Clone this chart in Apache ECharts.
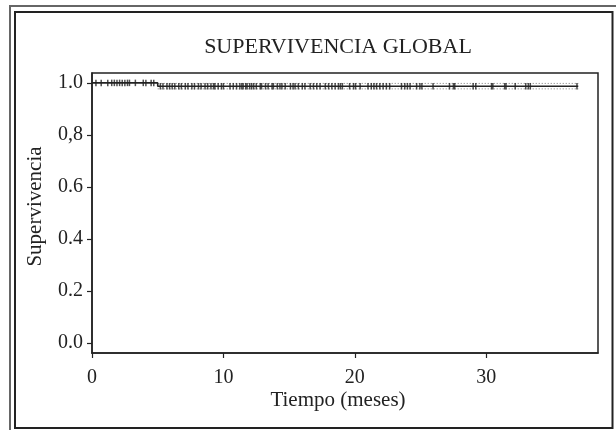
<!DOCTYPE html>
<html>
<head>
<meta charset="utf-8">
<script src="https://cdn.jsdelivr.net/npm/echarts@6/dist/echarts.min.js"></script>
<style>
html,body{margin:0;padding:0;background:#fff;}
#chart{width:616px;height:430px;}
</style>
</head>
<body>
<div id="chart"></div>
<script>
// Kaplan-Meier step curve (time in months, survival)
const kmTimes = [0, 5.0, 37.0];
const kmSurvival = [1.0, 0.987, 0.987];
// 95% confidence band after the event
const ciTimes = [5.0, 37.0];
const ciUpper = [0.998, 0.998];
const ciLower = [0.977, 0.977];
// censored observations (months)
const censorTimes = [
  0.3, 0.7, 1.2, 1.5, 1.7, 1.9, 2.1, 2.3, 2.5, 2.7, 2.85, 3.3, 3.9, 4.1, 4.5, 4.7,
  5.2, 5.4, 5.7, 5.9, 6.1, 6.3, 6.6, 6.8, 7.1, 7.3, 7.6, 7.8, 8.1, 8.3, 8.6, 8.8, 9.05, 9.25,
  9.35, 9.6, 9.85, 10.0, 10.5, 10.75, 11.0, 11.25, 11.4, 11.5, 11.7, 11.8, 12.0, 12.15, 12.3,
  12.5, 12.8, 12.9, 13.2, 13.4, 13.7, 13.8, 14.1, 14.3, 14.45, 14.7, 15.1, 15.3, 15.45, 15.7,
  16.0, 16.2, 16.6, 16.85, 17.1, 17.35, 17.75, 18.0, 18.25, 18.5, 18.75, 18.9, 19.05, 19.6,
  19.9, 20.05, 20.4, 21.0, 21.25, 21.45, 21.65, 21.9, 22.15, 22.4, 22.65, 23.55, 23.8, 24.0,
  24.2, 24.7, 24.95, 25.1, 25.95, 27.2, 27.5, 27.6, 29.0, 29.2, 30.4, 30.5, 31.4, 31.5, 32.2,
  33.0, 33.2, 33.35, 36.9
];
const yTickValues = [0, 0.2, 0.4, 0.6, 0.8, 1.0];
const yTickLabels = ['0.0', '0.2', '0.4', '0.6', '0,8', '1.0'];
const xTickValues = [0, 10, 20, 30];
const xTickLabels = ['0', '10', '20', '30'];

function survivalAt(t) {
  let s = kmSurvival[0];
  for (let i = 0; i < kmTimes.length; i++) if (kmTimes[i] <= t) s = kmSurvival[i];
  return s;
}

const font = 'Liberation Serif, Times New Roman, serif';
const chart = echarts.init(document.getElementById('chart'), null, {renderer: 'canvas'});
chart.setOption({
  animation: false,
  backgroundColor: '#fff',
  title: {
    text: 'SUPERVIVENCIA GLOBAL',
    left: 333, top: 31, textAlign: 'center',
    textStyle: {fontFamily: font, fontSize: 22, fontWeight: 'normal', color: '#222'}
  },
  graphic: [
    {type: 'rect', shape: {x: 10, y: 6, width: 640, height: 460}, style: {fill: 'none', stroke: '#666', lineWidth: 2}, silent: true},
    {type: 'rect', shape: {x: 15, y: 12, width: 597.5, height: 416}, style: {fill: 'none', stroke: '#222', lineWidth: 2}, silent: true}
  ],
  grid: {left: 92, top: 73, right: 18, bottom: 77, show: true, borderColor: '#222', borderWidth: 1.5, backgroundColor: 'transparent'},
  xAxis: {
    type: 'value', min: 0, max: 38.5,
    name: 'Tiempo (meses)', nameLocation: 'middle', nameGap: 37, nameMoveOverlap: false,
    nameTextStyle: {fontFamily: font, fontSize: 21, color: '#222', padding: [0, 14, 0, 0]},
    axisLine: {show: true, onZero: false, lineStyle: {color: '#222', width: 1.5}},
    axisTick: {show: true, length: 5, inside: false, customValues: xTickValues, lineStyle: {color: '#222', width: 1.2}},
    axisLabel: {customValues: xTickValues, margin: 15, fontFamily: font, fontSize: 20, color: '#222',
      formatter: v => xTickLabels[xTickValues.indexOf(v)]},
    splitLine: {show: false}
  },
  yAxis: {
    type: 'value', min: -0.038, max: 1.038,
    name: 'Supervivencia', nameLocation: 'middle', nameGap: 46, nameRotate: 90, nameMoveOverlap: false,
    nameTextStyle: {fontFamily: font, fontSize: 21, color: '#222', padding: [0, 0, 0, 13]},
    axisLine: {show: true, onZero: false, lineStyle: {color: '#222', width: 1.5}},
    axisTick: {show: true, length: 5, inside: false, customValues: yTickValues, lineStyle: {color: '#222', width: 1.2}},
    axisLabel: {customValues: yTickValues, margin: 9, fontFamily: font, fontSize: 20, color: '#222',
      formatter: v => yTickLabels[yTickValues.indexOf(v)]},
    splitLine: {show: false}
  },
  series: [
    {type: 'line', step: 'end', symbol: 'none', data: kmTimes.map((t, i) => [t, kmSurvival[i]]),
      lineStyle: {color: '#222', width: 1.6}, z: 3},
    {type: 'line', step: 'end', symbol: 'none', data: ciTimes.map((t, i) => [t, ciUpper[i]]),
      lineStyle: {color: '#777', width: 1, type: [1, 2]}, z: 2},
    {type: 'line', step: 'end', symbol: 'none', data: ciTimes.map((t, i) => [t, ciLower[i]]),
      lineStyle: {color: '#777', width: 1, type: [1, 2]}, z: 2},
    {type: 'scatter', symbol: 'rect', symbolSize: [1.5, 6.5], data: censorTimes.map(t => [t, survivalAt(t)]),
      itemStyle: {color: '#222'}, z: 4}
  ]
});
</script>
</body>
</html>
